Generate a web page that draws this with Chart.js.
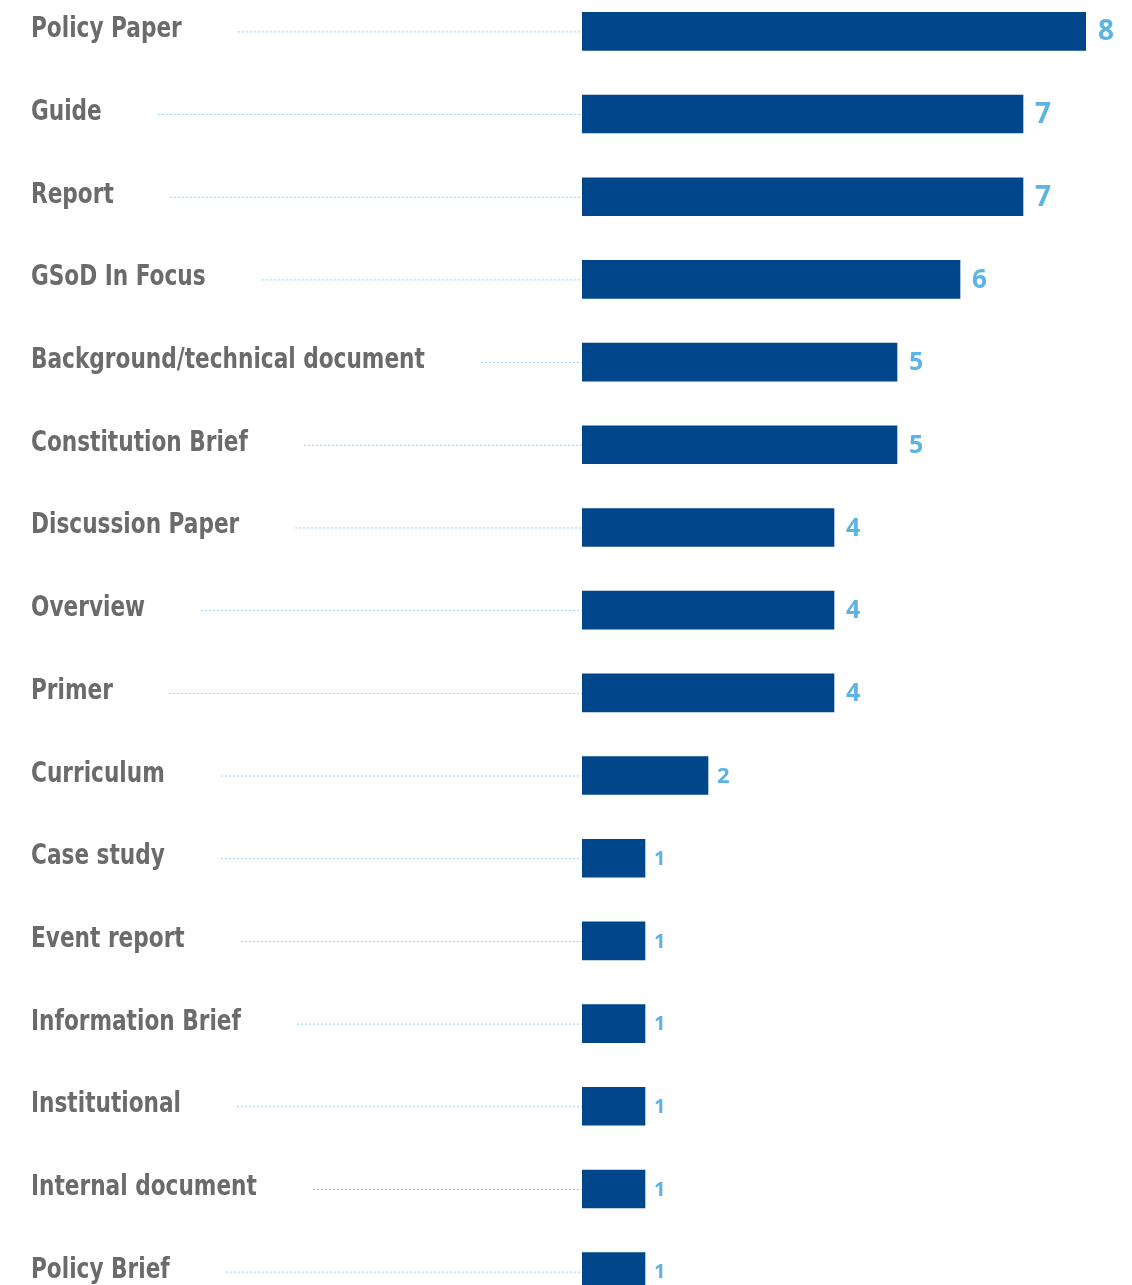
<!DOCTYPE html>
<html>
<head>
<meta charset="utf-8">
<script src="https://cdn.jsdelivr.net/npm/chart.js@4.4.1/dist/chart.umd.min.js"></script>
<style>
  html, body { margin: 0; padding: 0; background: #fff; overflow: hidden; }
  #wrap { position: absolute; left: 0; top: -10px; width: 1132px; height: 1323px; }
</style>
</head>
<body>
<div id="wrap"><canvas id="typeChart"></canvas></div>
<script>
// Publication types and counts
const typeLabels = [
    'Policy Paper', 'Guide', 'Report', 'GSoD In Focus', 'Background/technical document',
    'Constitution Brief', 'Discussion Paper', 'Overview', 'Primer', 'Curriculum',
    'Case study', 'Event report', 'Information Brief', 'Institutional', 'Internal document',
    'Policy Brief'
];
const typeCounts = [8, 7, 7, 6, 5, 5, 4, 4, 4, 2, 1, 1, 1, 1, 1, 1];

const labelFont = 'bold 29px "DejaVu Sans Condensed", sans-serif';
const squeeze = 0.83; // narrow the label text to match the condensed original

function valueSize(v) {
    if (v >= 7) return 28;
    if (v >= 6) return 26;
    if (v >= 4) return 25;
    if (v >= 2) return 22;
    return 20;
}

// draws category names, dotted leader lines and the value next to each bar
const leaderPlugin = {
    id: 'leaders',
    afterDatasetsDraw(chart) {
        const ctx = chart.ctx;
        const meta = chart.getDatasetMeta(0);
        const x0 = chart.chartArea.left;
        ctx.save();
        meta.data.forEach((bar, i) => {
            const y = bar.y;
            ctx.font = labelFont;
            ctx.fillStyle = '#6b6b6b';
            ctx.textAlign = 'left';
            ctx.textBaseline = 'alphabetic';
            ctx.save();
            ctx.translate(31, y + 6);
            ctx.scale(squeeze, 1);
            ctx.fillText(typeLabels[i], 0, 0);
            ctx.restore();
            const w = ctx.measureText(typeLabels[i]).width * squeeze;

            ctx.strokeStyle = '#92cfef';
            ctx.lineWidth = 1;
            ctx.setLineDash([2, 2]);
            ctx.beginPath();
            ctx.moveTo(31 + w + 56, y + 0.5);
            ctx.lineTo(x0, y + 0.5);
            ctx.stroke();
            ctx.setLineDash([]);

            const v = typeCounts[i];
            ctx.font = 'bold ' + valueSize(v) + 'px "Open Sans", sans-serif';
            ctx.fillStyle = '#5cb3e4';
            ctx.textBaseline = 'middle';
            ctx.fillText(String(v), bar.x + (v >= 4 ? 12 : 9), y + 1);
        });
        ctx.restore();
    }
};

const ctx = document.getElementById('typeChart').getContext('2d');
const typeChart = new Chart(ctx, {
    type: 'bar',
    data: {
        labels: typeLabels,
        datasets: [{
            data: typeCounts,
            backgroundColor: '#00468a',
            borderWidth: 0,
            barThickness: 38
        }]
    },
    options: {
        indexAxis: 'y',
        responsive: true,
        maintainAspectRatio: false,
        animation: false,
        layout: { padding: { left: 0, right: 46, top: 0, bottom: 0 } },
        plugins: {
            legend: { display: false },
            tooltip: { enabled: false }
        },
        scales: {
            x: { display: false, min: 0, max: 8 },
            y: {
                ticks: { display: false },
                grid: { display: false },
                border: { display: false },
                afterFit(scale) { scale.width = 582; }
            }
        }
    },
    plugins: [leaderPlugin]
});
</script>
</body>
</html>
